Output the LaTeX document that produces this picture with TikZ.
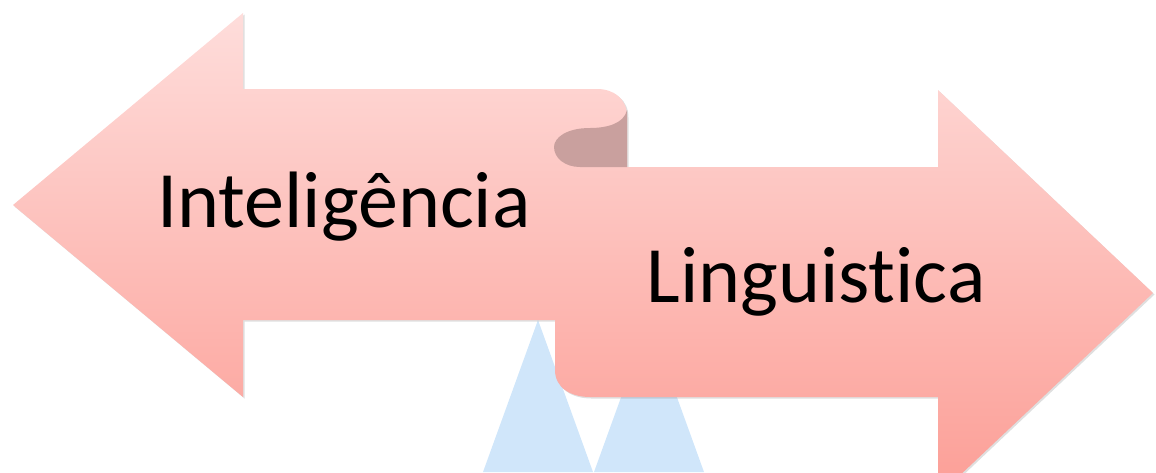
\documentclass[tikz,border=0pt]{standalone}
\usepackage{fontspec}
\setmainfont{Carlito}[Ligatures=NoCommon]
\usepackage{tikz}
\usetikzlibrary{positioning,calc,shadows}

\definecolor{pinktop}{RGB}{254,221,219}
\definecolor{pinkbot}{RGB}{252,158,150}
\definecolor{folddark}{RGB}{201,160,158}
\definecolor{skyblue}{RGB}{208,230,250}

\begin{document}
\begin{tikzpicture}[
    x=1pt, y=-1pt,
    twin/.style={top color=pinktop, bottom color=pinkbot, draw=none,
      drop shadow={opacity=0.25, shadow xshift=1.5pt, shadow yshift=-1.5pt}},
    fold/.style={fill=folddark, draw=none},
    cone/.style={fill=skyblue, draw=none},
    word/.style={anchor=base, font=\fontsize{80}{96}\selectfont, text=black, inner sep=0pt}
]
    \useasboundingbox (0,0) rectangle (1156,472);
    \clip (0,0) rectangle (1156,472);

    % blue cones behind
    \fill[cone] (538,320) -- (593,472) -- (483,472) -- cycle;
    \fill[cone] (649,320) -- (704,472) -- (594,472) -- cycle;

    % the two arrows as one shape
    \path[twin] (13,205) -- (243,13) -- (243,89) -- (597,89)
        .. controls (614,89) and (627,99) .. (627,116)
        -- (627,167) -- (938,167) -- (938,90) -- (1153,293)
        -- (938,496) -- (938,397) -- (590,397)
        .. controls (571,397) and (555,388) .. (555,370)
        -- (555,320) -- (243,320) -- (243,397) -- cycle;

    % the fold
    \fill[fold] (627,110) .. controls (624,124) and (606,128) .. (590,128)
        .. controls (566,128) and (554,138) .. (554,147)
        .. controls (554,158) and (565,167) .. (580,167)
        -- (627,167) -- cycle;

    \node[word] (intel) at (344,227) {Inteligência};
    \node[word] (lingu) at (816,302) {Linguistica};
\end{tikzpicture}
\end{document}
